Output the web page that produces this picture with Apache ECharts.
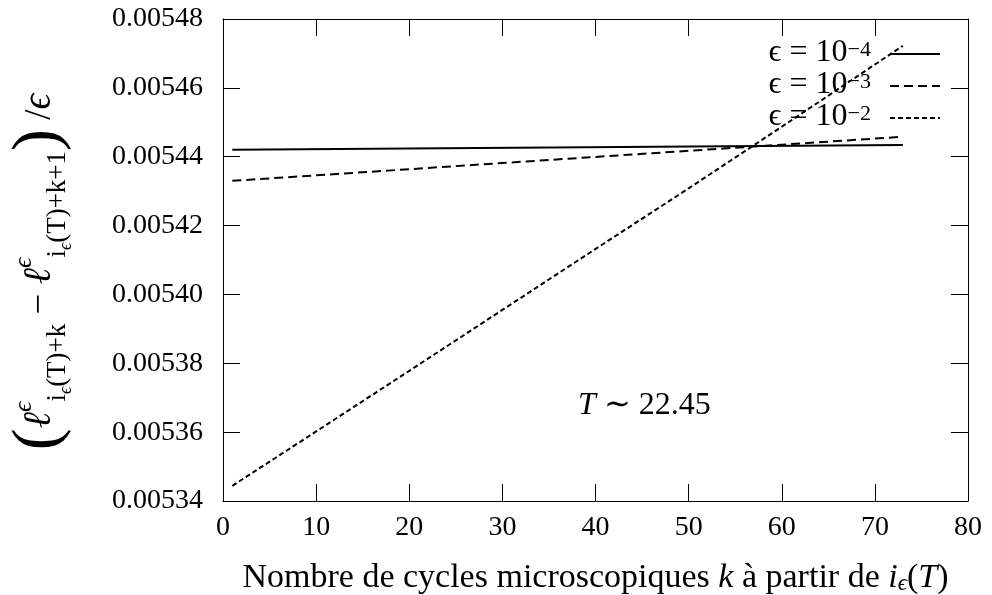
<!DOCTYPE html>
<html>
<head>
<meta charset="utf-8">
<script src="https://cdn.jsdelivr.net/npm/echarts@6/dist/echarts.min.js"></script>
<style>
  html, body { margin: 0; padding: 0; background: #fff; }
  #chart { width: 992px; height: 595px; }
</style>
</head>
<body>
<div id="chart"></div>
<script>
// k values (cycles microscopiques)
var kFlat = [1, 73];
var kSteep = [1, 10, 20, 30, 40, 50, 60, 73];

// eps = 1e-4 (trait plein)
var valE4 = [0.0054420, 0.0054434];
// eps = 1e-3 (tirets longs)
var valE3 = [0.0054330, 0.0054458];
// eps = 1e-2 (tirets courts)
var valE2 = [0.0053444, 0.0053602, 0.0053778, 0.0053955, 0.0054132, 0.0054308, 0.0054487, 0.0054722];

var xTicks = [0, 80, 10];
var yTicks = [0.00534, 0.00548, 0.00002];

var FONT = 'Liberation Serif';

function pairs(xs, ys) {
  var out = [];
  for (var i = 0; i < xs.length; i++) out.push([xs[i], ys[i]]);
  return out;
}

var chart = echarts.init(document.getElementById('chart'), null, { renderer: 'canvas' });

var black = '#000';
var tickCommon = { show: true, inside: true, length: 17, lineStyle: { color: black, width: 1 } };

var option = {
  backgroundColor: '#fff',
  animation: false,
  grid: { left: 223, right: 24, top: 19, bottom: 94, show: false, containLabel: false, outerBoundsMode: 'none' },
  legend: {
    orient: 'vertical',
    right: 46,
    top: 32,
    align: 'right',
    itemWidth: 50,
    itemHeight: 14,
    itemGap: 0,
    selectedMode: false,
    itemStyle: { opacity: 0 },
    formatter: function (name) {
      var p = name.split('^');
      return '{a|' + p[0] + '}{s|' + p[1] + '}';
    },
    textStyle: {
      fontFamily: FONT, fontSize: 30, color: black,
      rich: {
        a: { fontFamily: FONT, fontSize: 32, color: black, verticalAlign: 'bottom', lineHeight: 30 },
        s: { fontFamily: FONT, fontSize: 22, color: black, verticalAlign: 'top', lineHeight: 30, padding: [0, 14, 0, 0] }
      }
    }
  },
  xAxis: [{
    type: 'value',
    min: xTicks[0], max: xTicks[1], interval: xTicks[2],
    axisLine: { show: true, onZero: false, lineStyle: { color: black, width: 1 } },
    axisTick: tickCommon,
    splitLine: { show: false },
    axisLabel: { color: black, fontFamily: FONT, fontSize: 28, margin: 13 },
    name: '{t|Nombre de cycles microscopiques }{i|k}{t| à partir de }{i|i}{s|ϵ}{t|(}{i|T}{t|)}',
    nameLocation: 'middle',
    nameGap: 58,
    nameTextStyle: {
      rich: {
        t: { fontFamily: FONT, fontSize: 34, color: black, verticalAlign: 'bottom', lineHeight: 36 },
        i: { fontFamily: FONT, fontSize: 34, fontStyle: 'italic', color: black, verticalAlign: 'bottom', lineHeight: 36 },
        s: { fontFamily: FONT, fontSize: 23, fontStyle: 'italic', color: black, verticalAlign: 'bottom', lineHeight: 31 }
      }
    }
  }, {
    type: 'value',
    position: 'top',
    min: xTicks[0], max: xTicks[1], interval: xTicks[2],
    axisLine: { show: true, onZero: false, lineStyle: { color: black, width: 1 } },
    axisTick: tickCommon,
    axisLabel: { show: false },
    splitLine: { show: false }
  }],
  yAxis: [{
    type: 'value',
    min: yTicks[0], max: yTicks[1], interval: yTicks[2],
    axisLine: { show: true, onZero: false, lineStyle: { color: black, width: 1 } },
    axisTick: tickCommon,
    splitLine: { show: false },
    axisLabel: {
      color: black, fontFamily: FONT, fontSize: 28, margin: 20,
      formatter: function (v) { return v.toFixed(5); }
    },
    name: '{p|(}{i|ℓ}{sp|ϵ}{sb|i}{ss|ϵ}{sb|(T)+k}{t| − }{i|ℓ}{sp|ϵ}{sb|i}{ss|ϵ}{sb|(T)+k+1}{p|)}{t| /}{i|ϵ}',
    nameLocation: 'middle',
    nameRotate: 90,
    nameGap: 148,
    nameTextStyle: {
      padding: [0, 24, 0, 0],
      rich: {
        p: { fontFamily: FONT, fontSize: 66, color: black, verticalAlign: 'middle', lineHeight: 70 },
        t: { fontFamily: FONT, fontSize: 37, color: black, verticalAlign: 'middle', lineHeight: 70 },
        i: { fontFamily: FONT, fontSize: 39, fontStyle: 'italic', color: black, verticalAlign: 'middle', lineHeight: 70 },
        sp: { fontFamily: FONT, fontSize: 26, fontStyle: 'italic', color: black, verticalAlign: 'top', lineHeight: 70, padding: [6, 0, 0, 0] },
        sb: { fontFamily: FONT, fontSize: 27, color: black, verticalAlign: 'bottom', lineHeight: 70, padding: [0, 0, 4, 0] },
        ss: { fontFamily: FONT, fontSize: 18, fontStyle: 'italic', color: black, verticalAlign: 'bottom', lineHeight: 70, padding: [0, 0, 0, 0] }
      }
    }
  }, {
    type: 'value',
    position: 'right',
    min: yTicks[0], max: yTicks[1], interval: yTicks[2],
    axisLine: { show: true, onZero: false, lineStyle: { color: black, width: 1 } },
    axisTick: tickCommon,
    axisLabel: { show: false },
    splitLine: { show: false }
  }],
  graphic: [{
    type: 'text',
    left: 578,
    top: 390,
    style: {
      text: '{i|T}{t| ∼ 22.45}',
      rich: {
        i: { fontFamily: FONT, fontSize: 32, fontStyle: 'italic', fill: black },
        t: { fontFamily: FONT, fontSize: 32, fill: black }
      }
    }
  }],
  series: [{
    name: 'ϵ = 10^−4',
    type: 'line',
    data: pairs(kFlat, valE4),
    symbol: 'none',
    color: black,
    lineStyle: { color: black, width: 2, type: 'solid' }
  }, {
    name: 'ϵ = 10^−3',
    type: 'line',
    data: pairs(kFlat, valE3),
    symbol: 'none',
    color: black,
    lineStyle: { color: black, width: 2, type: [9, 5] }
  }, {
    name: 'ϵ = 10^−2',
    type: 'line',
    data: pairs(kSteep, valE2),
    symbol: 'none',
    color: black,
    lineStyle: { color: black, width: 2, type: [5, 3] }
  }]
};

chart.setOption(option);
</script>
</body>
</html>
